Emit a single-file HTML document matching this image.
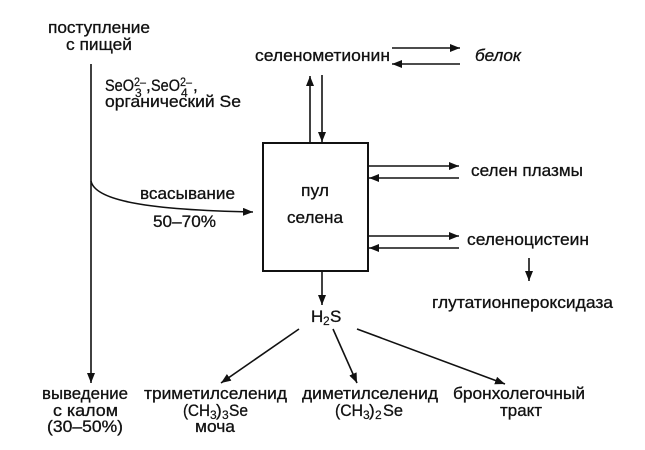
<!DOCTYPE html>
<html>
<head>
<meta charset="utf-8">
<style>
html,body{margin:0;padding:0;background:#fff;}
svg{display:block;}
text{font-family:"Liberation Sans","DejaVu Sans",sans-serif;font-size:17px;fill:#111;stroke:#111;stroke-width:0.3;}
.s{font-size:12px;stroke-width:0.2;}
</style>
</head>
<body>
<svg width="645" height="450" viewBox="0 0 645 450" xmlns="http://www.w3.org/2000/svg">
<defs>
<marker id="a" markerUnits="userSpaceOnUse" markerWidth="10" markerHeight="8" refX="10" refY="4" orient="auto">
<path d="M0,0 L10,4 L0,8 z" fill="#111" stroke="none"/>
</marker>
</defs>
<g stroke="#111" stroke-width="1.6" fill="none">
<line x1="91" y1="64" x2="91" y2="383" marker-end="url(#a)"/>
<path d="M91,181 C95,201 150,210 253,212" marker-end="url(#a)"/>
<rect x="263" y="143" width="105" height="128" stroke-width="2"/>
<line x1="392" y1="48" x2="460" y2="48" marker-end="url(#a)"/>
<line x1="460" y1="64" x2="392" y2="64" marker-end="url(#a)"/>
<line x1="310" y1="142" x2="310" y2="76" marker-end="url(#a)"/>
<line x1="322" y1="75" x2="322" y2="142" marker-end="url(#a)"/>
<line x1="368" y1="166" x2="459" y2="166" marker-end="url(#a)"/>
<line x1="459" y1="178" x2="369" y2="178" marker-end="url(#a)"/>
<line x1="368" y1="236" x2="459" y2="236" marker-end="url(#a)"/>
<line x1="459" y1="248" x2="369" y2="248" marker-end="url(#a)"/>
<line x1="529" y1="258" x2="529" y2="281" marker-end="url(#a)"/>
<line x1="322" y1="271" x2="322" y2="305" marker-end="url(#a)"/>
<line x1="299" y1="329" x2="221" y2="383" marker-end="url(#a)"/>
<line x1="333" y1="329" x2="357" y2="383" marker-end="url(#a)"/>
<line x1="357" y1="329" x2="505" y2="384" marker-end="url(#a)"/>
</g>

<text x="48" y="33" textLength="102" lengthAdjust="spacingAndGlyphs">поступление</text>
<text x="66" y="50" textLength="66" lengthAdjust="spacingAndGlyphs">с пищей</text>

<text x="105" y="91" textLength="29" lengthAdjust="spacingAndGlyphs">SeO</text>
<text class="s" x="134" y="86" textLength="12" lengthAdjust="spacingAndGlyphs">2–</text>
<text class="s" x="135" y="97">3</text>
<text x="146" y="91">,</text>
<text x="151" y="91" textLength="29" lengthAdjust="spacingAndGlyphs">SeO</text>
<text class="s" x="180" y="86" textLength="12" lengthAdjust="spacingAndGlyphs">2–</text>
<text class="s" x="181" y="97">4</text>
<text x="193" y="91">,</text>
<text x="105" y="107" textLength="136" lengthAdjust="spacingAndGlyphs">органический Se</text>

<text x="140" y="199" textLength="95" lengthAdjust="spacingAndGlyphs">всасывание</text>
<text x="153" y="227" textLength="63" lengthAdjust="spacingAndGlyphs">50–70%</text>

<text x="255" y="61" textLength="135" lengthAdjust="spacingAndGlyphs">селенометионин</text>
<text x="475" y="61" textLength="46" lengthAdjust="spacingAndGlyphs" font-style="italic">белок</text>

<text x="301" y="196" textLength="28" lengthAdjust="spacingAndGlyphs">пул</text>
<text x="287" y="223" textLength="56" lengthAdjust="spacingAndGlyphs">селена</text>

<text x="471" y="176" textLength="112" lengthAdjust="spacingAndGlyphs">селен плазмы</text>
<text x="467" y="245" textLength="122" lengthAdjust="spacingAndGlyphs">селеноцистеин</text>
<text x="432" y="308" textLength="181" lengthAdjust="spacingAndGlyphs">глутатионпероксидаза</text>

<text x="311" y="322">H</text>
<text class="s" x="323" y="325">2</text>
<text x="330" y="322">S</text>

<text x="42" y="399" textLength="86" lengthAdjust="spacingAndGlyphs">выведение</text>
<text x="53" y="416" textLength="65" lengthAdjust="spacingAndGlyphs">с калом</text>
<text x="47" y="432" textLength="76" lengthAdjust="spacingAndGlyphs">(30–50%)</text>

<text x="144" y="399" textLength="143" lengthAdjust="spacingAndGlyphs">триметилселенид</text>
<text x="183" y="416" textLength="27" lengthAdjust="spacingAndGlyphs">(CH</text>
<text class="s" x="210" y="419">3</text>
<text x="216" y="416">)</text>
<text class="s" x="222" y="419">3</text>
<text x="229" y="416" textLength="19" lengthAdjust="spacingAndGlyphs">Se</text>
<text x="195" y="432" textLength="40" lengthAdjust="spacingAndGlyphs">моча</text>

<text x="302" y="399" textLength="136" lengthAdjust="spacingAndGlyphs">диметилселенид</text>
<text x="335" y="416" textLength="28" lengthAdjust="spacingAndGlyphs">(CH</text>
<text class="s" x="363" y="419">3</text>
<text x="369" y="416">)</text>
<text class="s" x="375" y="419">2</text>
<text x="383" y="416" textLength="20" lengthAdjust="spacingAndGlyphs">Se</text>

<text x="453" y="399" textLength="132" lengthAdjust="spacingAndGlyphs">бронхолегочный</text>
<text x="500" y="416" textLength="42" lengthAdjust="spacingAndGlyphs">тракт</text>
</svg>
</body>
</html>
